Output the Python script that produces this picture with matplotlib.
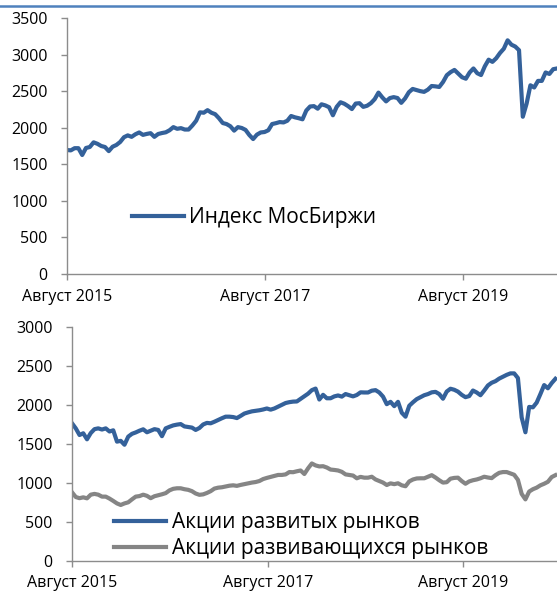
import pandas as pd
import matplotlib
matplotlib.use('Agg')
import matplotlib.pyplot as plt
from matplotlib.lines import Line2D

plt.rcParams['font.family'] = ['Open Sans', 'DejaVu Sans']

# даты: шаг 14 дней с августа 2015
dates = pd.date_range('2015-08-01', periods=130, freq='14D')

moex = [1695, 1690, 1720, 1720, 1627, 1723, 1736, 1800, 1780, 1750,
        1736, 1680, 1740, 1764, 1805, 1870, 1895, 1875, 1910, 1935,
        1902, 1915, 1925, 1875, 1914, 1927, 1937, 1965, 2008, 1985,
        1994, 1975, 1975, 2030, 2095, 2210, 2205, 2240, 2205, 2185,
        2130, 2064, 2050, 2020, 1960, 2008, 1996, 1970, 1900, 1845,
        1905, 1935, 1941, 1965, 2050, 2062, 2077, 2072, 2095, 2160,
        2142, 2130, 2115, 2235, 2290, 2295, 2260, 2320, 2305, 2280,
        2170, 2285, 2348, 2328, 2295, 2255, 2330, 2335, 2285, 2300,
        2335, 2390, 2480, 2415, 2360, 2405, 2418, 2406, 2340, 2400,
        2485, 2530, 2515, 2500, 2490, 2520, 2570, 2565, 2557, 2625,
        2718, 2760, 2790, 2740, 2690, 2670, 2755, 2810, 2745, 2720,
        2840, 2930, 2900, 2950, 3022, 3080, 3195, 3135, 3110, 3060,
        2150, 2330, 2580, 2550, 2640, 2640, 2755, 2735, 2800, 2810]

developed = [1765, 1700, 1615, 1637, 1560, 1640, 1690, 1700, 1685, 1700,
             1660, 1675, 1530, 1540, 1490, 1594, 1630, 1648, 1670, 1688,
             1650, 1670, 1690, 1680, 1600, 1700, 1720, 1738, 1748, 1755,
             1725, 1718, 1710, 1680, 1705, 1750, 1770, 1765, 1785, 1808,
             1830, 1850, 1850, 1845, 1832, 1860, 1890, 1905, 1918, 1925,
             1932, 1942, 1955, 1940, 1955, 1978, 2000, 2025, 2036, 2043,
             2045, 2078, 2110, 2145, 2190, 2210, 2070, 2130, 2086, 2086,
             2110, 2122, 2107, 2140, 2125, 2110, 2128, 2162, 2160, 2160,
             2183, 2190, 2160, 2107, 2010, 2040, 1985, 2040, 1900, 1850,
             1990, 2035, 2075, 2100, 2125, 2140, 2162, 2168, 2140, 2080,
             2172, 2208, 2195, 2171, 2130, 2100, 2114, 2185, 2160, 2125,
             2185, 2250, 2285, 2305, 2338, 2362, 2386, 2405, 2405, 2345,
             1840, 1650, 1975, 1970, 2030, 2140, 2255, 2214, 2280, 2335]

emerging = [880, 820, 805, 816, 803, 850, 860, 850, 825, 825,
            800, 770, 738, 718, 738, 752, 790, 825, 832, 850,
            835, 805, 830, 842, 855, 870, 905, 925, 932, 932,
            920, 912, 895, 865, 848, 854, 872, 895, 928, 940,
            945, 955, 965, 970, 963, 975, 985, 995, 1005, 1012,
            1025, 1050, 1065, 1078, 1090, 1103, 1103, 1110, 1140, 1138,
            1150, 1160, 1115, 1188, 1250, 1225, 1212, 1215, 1198, 1172,
            1167, 1160, 1143, 1110, 1103, 1095, 1060, 1078, 1068, 1068,
            1080, 1045, 1025, 1005, 974, 995, 985, 996, 970, 958,
            1020, 1045, 1058, 1060, 1060, 1080, 1100, 1070, 1035, 1005,
            1010, 1055, 1065, 1068, 1025, 990, 1020, 1035, 1045, 1060,
            1080, 1070, 1062, 1100, 1130, 1140, 1140, 1122, 1105, 1040,
            860, 790, 890, 920, 940, 970, 990, 1015, 1075, 1100]

tick_dates = pd.to_datetime(['2015-08-01', '2017-08-01', '2019-08-01'])
tick_labels = ['Август 2015', 'Август 2017', 'Август 2019']

blue = '#34619A'
grey = '#858585'
spine_c = '#8C8C8C'

fig = plt.figure(figsize=(5.57, 5.92), dpi=100)

# полоса сверху
fig.add_artist(Line2D([0, 1], [0.9895, 0.9895], color='#4F81BD', lw=1.8,
                      transform=fig.transFigure))


def style_axes(ax, ymax, xend, xpad):
    ax.set_xlim(pd.Timestamp('2015-08-01'), pd.Timestamp(xend))
    ax.set_ylim(0, ymax)
    ax.set_yticks(range(0, ymax + 1, 500))
    ax.set_xticks(tick_dates)
    ax.set_xticklabels(tick_labels)
    for s in ['top', 'right']:
        ax.spines[s].set_visible(False)
    for s in ['left', 'bottom']:
        ax.spines[s].set_color(spine_c)
        ax.spines[s].set_linewidth(1.0)
    ax.tick_params(axis='y', length=4.3, width=1, color=spine_c, pad=9.5,
                   labelsize=11.5, labelcolor='black')
    ax.tick_params(axis='x', length=4.3, width=1, color=spine_c, pad=xpad,
                   labelsize=11.5, labelcolor='black')


ax1 = fig.add_axes([0.1203, 0.5372, 0.8797, 0.4324])
ax1.plot(dates, moex, color=blue, lw=3.0, label='Индекс МосБиржи',
         solid_joinstyle='round')
style_axes(ax1, 3500, '2020-07-11', 6.5)
ax1.legend(loc='center left', bbox_to_anchor=(0.133, 0.219), frameon=False,
           fontsize=15, handlelength=2.5, handletextpad=0.25,
           borderpad=0, borderaxespad=0)

ax2 = fig.add_axes([0.1293, 0.0524, 0.8707, 0.3953])
ax2.plot(dates, developed, color=blue, lw=3.0, label='Акции развитых рынков',
         solid_joinstyle='round')
ax2.plot(dates, emerging, color=grey, lw=3.0,
         label='Акции развивающихся рынков', solid_joinstyle='round')
style_axes(ax2, 3000, '2020-07-17', 5.5)
ax2.legend(loc='center left', bbox_to_anchor=(0.087, 0.109), frameon=False,
           fontsize=15, handlelength=2.5, handletextpad=0.25,
           labelspacing=0.25, borderpad=0, borderaxespad=0)

fig.savefig('out.png', dpi=100)
